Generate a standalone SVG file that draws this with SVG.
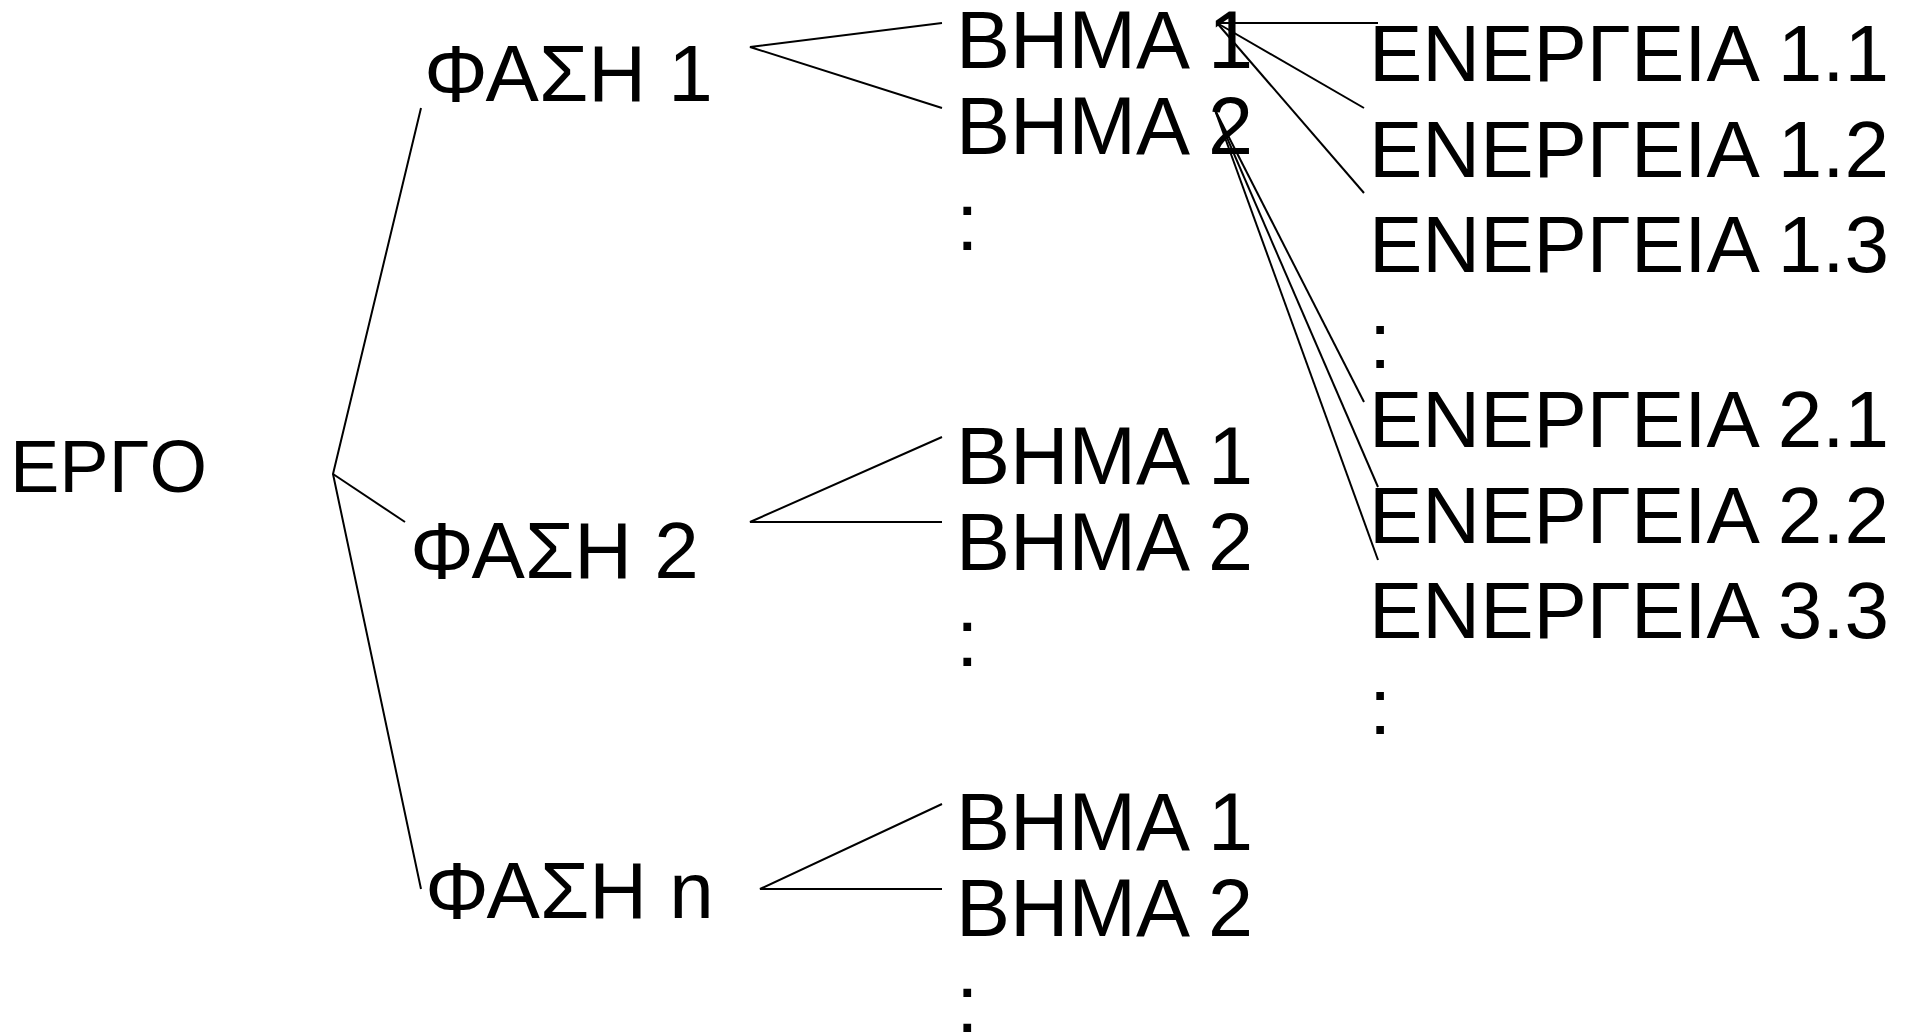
<svg xmlns="http://www.w3.org/2000/svg" width="1914" height="1036" viewBox="0 0 1914 1036">
  <style>
    text { font-family: "Liberation Sans", Arial, sans-serif; fill: #000; }
    .lbl { font-size: 80px; }
    .step { font-size: 81px; }
    .root { font-size: 74px; }
    .link { stroke: #000; stroke-width: 2; fill: none; stroke-linecap: butt; }
  </style>
  <rect x="0" y="0" width="1914" height="1036" fill="#fff"/>

  <!-- connectors -->
  <g id="connectors">
    <!-- project to phases -->
    <polyline class="link" points="421,108 333,474 421,889"/>
    <line class="link" x1="333" y1="474" x2="405" y2="522"/>
    <!-- phase 1 to its steps -->
    <polyline class="link" points="942,23 750,47 942,108"/>
    <!-- phase 2 to its steps -->
    <polyline class="link" points="942,437 750,522 942,522"/>
    <!-- phase n to its steps -->
    <polyline class="link" points="942,804 760,889 942,889"/>
    <!-- step 1 to activities 1.x -->
    <line class="link" x1="1217" y1="23" x2="1378" y2="23"/>
    <line class="link" x1="1217" y1="23" x2="1364" y2="108"/>
    <line class="link" x1="1217" y1="23" x2="1364" y2="193"/>
    <!-- step 2 to activities 2.x / 3.3 -->
    <line class="link" x1="1215" y1="110" x2="1364" y2="402"/>
    <line class="link" x1="1215" y1="110" x2="1378" y2="487"/>
    <line class="link" x1="1215" y1="110" x2="1378" y2="560"/>
  </g>

  <!-- root -->
  <g id="ergo"><text class="root" x="10" y="492">ΕΡΓΟ</text></g>

  <!-- phases -->
  <g id="fasi-1"><text class="lbl" x="424" y="101">ΦΑΣΗ 1</text></g>
  <g id="fasi-2"><text class="lbl" x="410" y="578">ΦΑΣΗ 2</text></g>
  <g id="fasi-n"><text class="lbl" x="425" y="918">ΦΑΣΗ n</text></g>

  <!-- steps of phase 1 -->
  <g id="f1-vima-1"><text class="step" x="956" y="68">ΒΗΜΑ 1</text></g>
  <g id="f1-vima-2"><text class="step" x="956" y="154">ΒΗΜΑ 2</text></g>
  <g id="f1-more"><text class="step" x="956" y="250">:</text></g>

  <!-- steps of phase 2 -->
  <g id="f2-vima-1"><text class="step" x="956" y="484">ΒΗΜΑ 1</text></g>
  <g id="f2-vima-2"><text class="step" x="956" y="570">ΒΗΜΑ 2</text></g>
  <g id="f2-more"><text class="step" x="956" y="666">:</text></g>

  <!-- steps of phase n -->
  <g id="fn-vima-1"><text class="step" x="956" y="850">ΒΗΜΑ 1</text></g>
  <g id="fn-vima-2"><text class="step" x="956" y="936">ΒΗΜΑ 2</text></g>
  <g id="fn-more"><text class="step" x="956" y="1032">:</text></g>

  <!-- activities -->
  <g id="energeia-1-1"><text class="lbl" x="1369" y="81">ΕΝΕΡΓΕΙΑ 1.1</text></g>
  <g id="energeia-1-2"><text class="lbl" x="1369" y="177">ΕΝΕΡΓΕΙΑ 1.2</text></g>
  <g id="energeia-1-3"><text class="lbl" x="1369" y="272">ΕΝΕΡΓΕΙΑ 1.3</text></g>
  <g id="energeia-1-more"><text class="lbl" x="1369" y="368">:</text></g>
  <g id="energeia-2-1"><text class="lbl" x="1369" y="447">ΕΝΕΡΓΕΙΑ 2.1</text></g>
  <g id="energeia-2-2"><text class="lbl" x="1369" y="543">ΕΝΕΡΓΕΙΑ 2.2</text></g>
  <g id="energeia-3-3"><text class="lbl" x="1369" y="638">ΕΝΕΡΓΕΙΑ 3.3</text></g>
  <g id="energeia-more"><text class="lbl" x="1369" y="734">:</text></g>
</svg>
